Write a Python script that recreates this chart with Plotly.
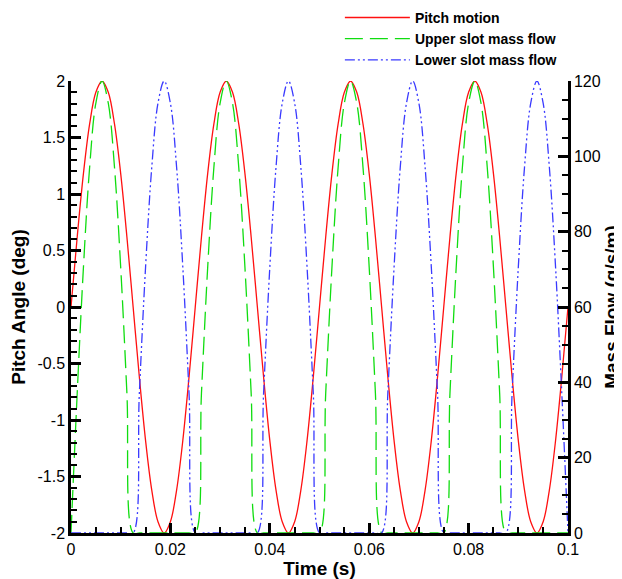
import plotly.graph_objects as go

# Sample times (s)
time_s = [0, 0.00125, 0.0025, 0.00375, 0.005, 0.00625, 0.0075, 0.00875, 0.01, 0.01125,
          0.0125, 0.01375, 0.015, 0.01625, 0.0175, 0.01875, 0.02, 0.02125, 0.0225, 0.02375,
          0.025, 0.02625, 0.0275, 0.02875, 0.03, 0.03125, 0.0325, 0.03375, 0.035, 0.03625,
          0.0375, 0.03875, 0.04, 0.04125, 0.0425, 0.04375, 0.045, 0.04625, 0.0475, 0.04875,
          0.05, 0.05125, 0.0525, 0.05375, 0.055, 0.05625, 0.0575, 0.05875, 0.06, 0.06125,
          0.0625, 0.06375, 0.065, 0.06625, 0.0675, 0.06875, 0.07, 0.07125, 0.0725, 0.07375,
          0.075, 0.07625, 0.0775, 0.07875, 0.08, 0.08125, 0.0825, 0.08375, 0.085, 0.08625,
          0.0875, 0.08875, 0.09, 0.09125, 0.0925, 0.09375, 0.095, 0.09625, 0.0975, 0.09875,
          0.1]

# Pitch angle (deg)
pitch_deg = [0, 0.62, 1.18, 1.62, 1.9, 2, 1.9, 1.62, 1.18, 0.62,
             0, -0.62, -1.18, -1.62, -1.9, -2, -1.9, -1.62, -1.18, -0.62,
             0, 0.62, 1.18, 1.62, 1.9, 2, 1.9, 1.62, 1.18, 0.62,
             0, -0.62, -1.18, -1.62, -1.9, -2, -1.9, -1.62, -1.18, -0.62,
             0, 0.62, 1.18, 1.62, 1.9, 2, 1.9, 1.62, 1.18, 0.62,
             0, -0.62, -1.18, -1.62, -1.9, -2, -1.9, -1.62, -1.18, -0.62,
             0, 0.62, 1.18, 1.62, 1.9, 2, 1.9, 1.62, 1.18, 0.62,
             0, -0.62, -1.18, -1.62, -1.9, -2, -1.9, -1.62, -1.18, -0.62,
             0]

# Upper slot mass flow (g/s/m)
upper_flow = [0, 37.1, 70.5, 97.1, 114.1, 120, 114.1, 97.1, 70.5, 37.1,
              0, 0, 0, 0, 0, 0, 0, 0, 0, 0,
              0, 37.1, 70.5, 97.1, 114.1, 120, 114.1, 97.1, 70.5, 37.1,
              0, 0, 0, 0, 0, 0, 0, 0, 0, 0,
              0, 37.1, 70.5, 97.1, 114.1, 120, 114.1, 97.1, 70.5, 37.1,
              0, 0, 0, 0, 0, 0, 0, 0, 0, 0,
              0, 37.1, 70.5, 97.1, 114.1, 120, 114.1, 97.1, 70.5, 37.1,
              0, 0, 0, 0, 0, 0, 0, 0, 0, 0,
              0]

# Lower slot mass flow (g/s/m)
lower_flow = [0, 0, 0, 0, 0, 0, 0, 0, 0, 0,
              0, 37.1, 70.5, 97.1, 114.1, 120, 114.1, 97.1, 70.5, 37.1,
              0, 0, 0, 0, 0, 0, 0, 0, 0, 0,
              0, 37.1, 70.5, 97.1, 114.1, 120, 114.1, 97.1, 70.5, 37.1,
              0, 0, 0, 0, 0, 0, 0, 0, 0, 0,
              0, 37.1, 70.5, 97.1, 114.1, 120, 114.1, 97.1, 70.5, 37.1,
              0, 0, 0, 0, 0, 0, 0, 0, 0, 0,
              0, 37.1, 70.5, 97.1, 114.1, 120, 114.1, 97.1, 70.5, 37.1,
              0]

x_ticks = [0, 0.02, 0.04, 0.06, 0.08, 0.1]
x_ticktext = ["0", "0.02", "0.04", "0.06", "0.08", "0.1"]
y_ticks = [-2, -1.5, -1, -0.5, 0, 0.5, 1, 1.5, 2]
y_ticktext = ["-2", "-1.5", "-1", "-0.5", "0", "0.5", "1", "1.5", "2"]
y2_ticks = [0, 20, 40, 60, 80, 100, 120]
y2_ticktext = ["0", "20", "40", "60", "80", "100", "120"]

FONT = "Liberation Sans, Arial, sans-serif"

fig = go.Figure()
fig.add_trace(go.Scatter(x=time_s, y=pitch_deg, name="Pitch motion", mode="lines",
                         line=dict(color="#ff1010", width=1.3, shape="spline", smoothing=1.0)))
fig.add_trace(go.Scatter(x=time_s, y=upper_flow, name="Upper slot mass flow", mode="lines", yaxis="y2",
                         line=dict(color="#10dd10", width=1.3, dash="18px,7px", shape="spline", smoothing=1.0)))
fig.add_trace(go.Scatter(x=time_s, y=lower_flow, name="Lower slot mass flow", mode="lines", yaxis="y2",
                         line=dict(color="#3a3aff", width=1.3, dash="10px,3px,2px,3px,2px,3px",
                                   shape="spline", smoothing=1.0)))

axis_common = dict(showline=True, linecolor="black", linewidth=2.5, ticks="inside",
                   ticklen=10, tickwidth=2.5, tickcolor="black", showgrid=False, zeroline=False,
                   automargin=False,
                   tickfont=dict(family=FONT, size=16, color="black"))
minor_common = dict(ticks="inside", ticklen=6, tickwidth=1.5, tickcolor="black")
title_font = dict(family=FONT, size=19, color="black", weight="bold")

fig.update_layout(
    width=614, height=571,
    margin=dict(l=63, r=54, t=73, b=46, autoexpand=False),
    paper_bgcolor="white", plot_bgcolor="white",
    font=dict(family=FONT, color="black"),
    xaxis=dict(range=[0, 0.1], tickvals=x_ticks, ticktext=x_ticktext,
               minor=dict(dtick=0.005, **minor_common),
               title=dict(text="Time (s)", font=title_font, standoff=3),
               **axis_common),
    yaxis=dict(range=[-2, 2], tickvals=y_ticks, ticktext=y_ticktext,
               minor=dict(dtick=0.1, **minor_common),
               title=dict(text="Pitch Angle (deg)", font=title_font, standoff=7),
               **axis_common),
    yaxis2=dict(range=[0, 120], overlaying="y", side="right", tickvals=y2_ticks, ticktext=y2_ticktext,
                minor=dict(dtick=5, **minor_common),
                title=dict(text="Mass Flow (g/s/m)", font=title_font, standoff=7),
                **axis_common),
    legend=dict(x=0.541, y=1.175, xanchor="left", yanchor="top", bgcolor="rgba(0,0,0,0)",
                font=dict(family=FONT, size=14, color="black", weight="bold"),
                itemwidth=65, tracegroupgap=0),
    showlegend=True,
)

fig.write_html("out.html")
